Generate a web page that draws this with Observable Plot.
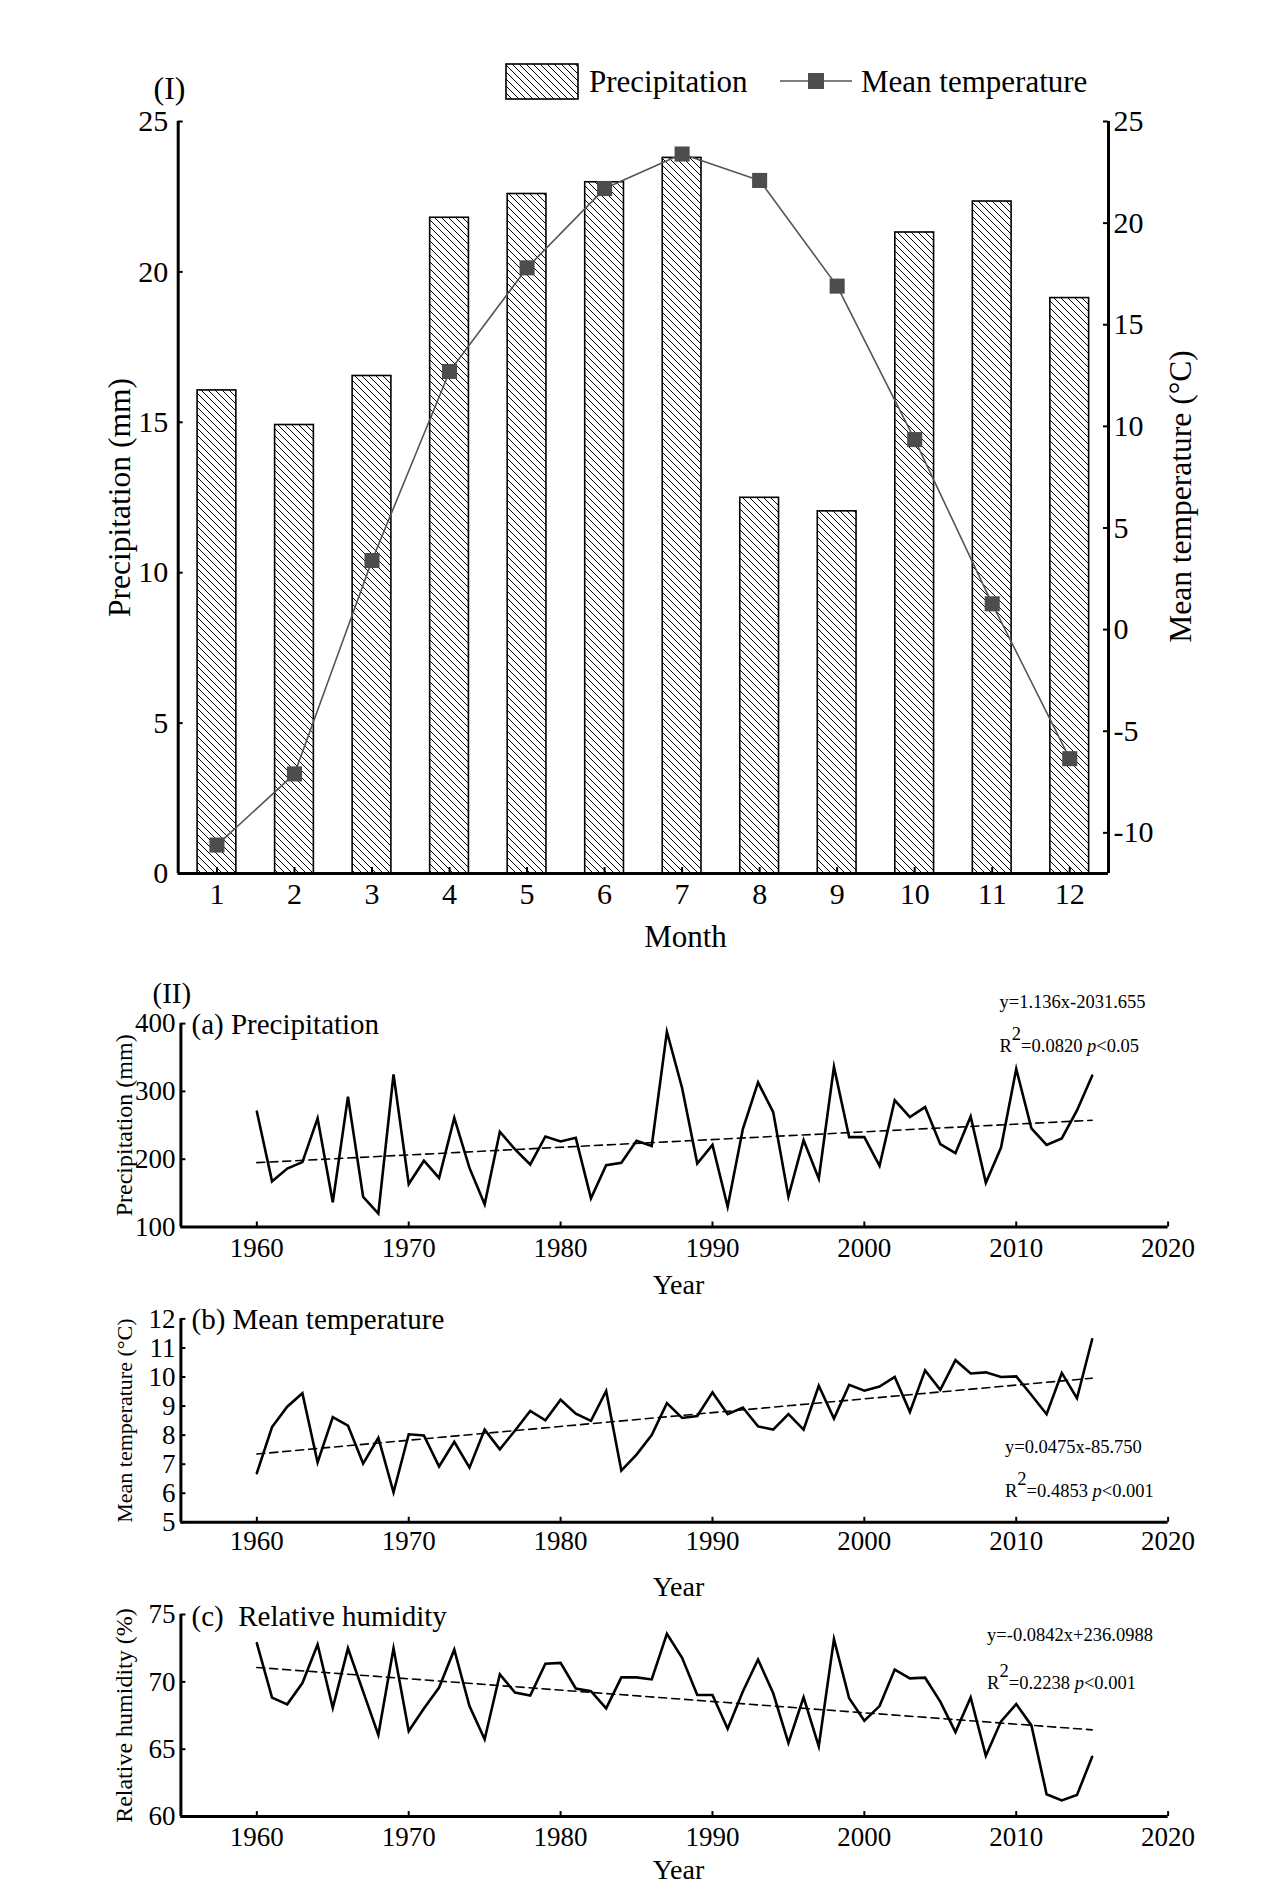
<!DOCTYPE html>
<html>
<head>
<meta charset="utf-8">
<script src="https://cdn.jsdelivr.net/npm/d3@7"></script>
<script src="https://cdn.jsdelivr.net/npm/@observablehq/plot@0.6"></script>
<style>
  html, body { margin: 0; padding: 0; background: #fff; overflow: hidden; }
  #wrap { position: relative; width: 1280px; height: 1891px; background: #fff; }
</style>
</head>
<body>
<svg width="0" height="0" style="position:absolute">
  <defs>
    <pattern id="hatch" patternUnits="userSpaceOnUse" width="7" height="7">
      <path d="M0,0L7,7M-1,6L1,8M6,-1L8,1" stroke="#000" stroke-width="1"/>
    </pattern>
  </defs>
</svg>
<div id="wrap"></div>
<script>
// ---------------- DATA ----------------
const months = [1, 2, 3, 4, 5, 6, 7, 8, 9, 10, 11, 12];
const precipMonthly = [16.06, 14.91, 16.54, 21.8, 22.59, 22.98, 23.79, 12.49, 12.04, 21.31, 22.34, 19.13];
const tempMonthly = [-10.6, -7.1, 3.4, 12.7, 17.8, 21.7, 23.4, 22.1, 16.9, 9.35, 1.27, -6.35];
const precipTicksMonthly = [0, 5, 10, 15, 20, 25];
const tempTicksMonthly = [-10, -5, 0, 5, 10, 15, 20, 25];

const years = [1960, 1961, 1962, 1963, 1964, 1965, 1966, 1967, 1968, 1969,
  1970, 1971, 1972, 1973, 1974, 1975, 1976, 1977, 1978, 1979,
  1980, 1981, 1982, 1983, 1984, 1985, 1986, 1987, 1988, 1989,
  1990, 1991, 1992, 1993, 1994, 1995, 1996, 1997, 1998, 1999,
  2000, 2001, 2002, 2003, 2004, 2005, 2006, 2007, 2008, 2009,
  2010, 2011, 2012, 2013, 2014, 2015];

const annualPrecip = [270.4, 167.3, 186.2, 195.7, 260.4, 136.4, 292.3, 144.3, 119.9, 325.2,
  163.3, 197.7, 172.3, 261.0, 187.2, 133.4, 240.5, 214.6, 192.2, 233.5,
  226.1, 231.5, 142.4, 191.2, 194.7, 227.1, 219.6, 388.0, 305.0, 193.7,
  221.1, 129.9, 244.5, 313.3, 269.4, 144.8, 228.0, 171.3, 336.2, 232.5,
  232.5, 190.2, 286.9, 262.0, 276.9, 222.1, 209.1, 262.9, 165.3, 217.1,
  333.2, 245.5, 221.1, 230.6, 271.9, 323.2];

const annualTemp = [6.69, 8.28, 8.98, 9.44, 7.06, 8.62, 8.33, 7.02, 7.91, 6.03,
  8.03, 7.99, 6.92, 7.77, 6.88, 8.19, 7.51, 8.16, 8.83, 8.51,
  9.22, 8.74, 8.49, 9.52, 6.78, 7.33, 8.0, 9.1, 8.59, 8.66,
  9.47, 8.72, 8.95, 8.30, 8.19, 8.72, 8.19, 9.70, 8.57, 9.73,
  9.53, 9.67, 10.0, 8.80, 10.23, 9.56, 10.58, 10.12, 10.16, 10.0,
  10.02, 9.38, 8.72, 10.14, 9.27, 11.30];

const annualRH = [72.87, 68.83, 68.33, 69.91, 72.77, 68.08, 72.49, 69.28, 66.07, 72.49,
  66.35, 68.03, 69.58, 72.39, 68.2, 65.74, 70.56, 69.2, 68.98, 71.34,
  71.41, 69.51, 69.31, 68.03, 70.33, 70.33, 70.18, 73.57, 71.79, 69.03,
  69.03, 66.52, 69.28, 71.66, 69.15, 65.47, 68.85, 65.22, 73.17, 68.78,
  67.12, 68.2, 70.91, 70.26, 70.31, 68.53, 66.27, 68.85, 64.51, 67.07,
  68.35, 66.77, 61.66, 61.2, 61.6, 64.44];

// trend line end points (1960 and 2015)
const trendYears = [1960, 2015];
const trendPrecip = [194.9, 257.4];
const trendTemp = [7.35, 9.96];
const trendRH = [71.07, 66.44];

const yearTicks = [1960, 1970, 1980, 1990, 2000, 2010, 2020];
const precipTicks = [100, 200, 300, 400];
const tempTicks = [5, 6, 7, 8, 9, 10, 11, 12];
const rhTicks = [60, 65, 70, 75];

// ---------------- HELPERS ----------------
const FONT = '"Liberation Serif", "Times New Roman", serif';
const W = 1280;
const wrap = document.getElementById("wrap");

function add(svg, top) {
  svg.style.position = "absolute";
  svg.style.left = "0px";
  svg.style.top = top + "px";
  wrap.appendChild(svg);
  return svg;
}

// place a text by its baseline point (X, Y in svg pixels)
function txt(s, X, Y, m, o = {}) {
  return Plot.text([s], {
    text: d => d,
    frameAnchor: "top-left",
    dx: X - m.mL,
    dy: Y - m.mT,
    lineAnchor: "bottom",
    textAnchor: "start",
    fill: "#000",
    fontSize: 30,
    ...o
  });
}

function fixSuperscripts(svg) {
  svg.querySelectorAll("text").forEach(t => {
    const s = t.textContent;
    const mm = s.match(/^R2=(\S+) p(.*)$/);
    if (mm) {
      const rest = mm[2].replace(/&/g, "&amp;").replace(/</g, "&lt;");
      t.innerHTML = `R<tspan dy="-0.62em">2</tspan><tspan dy="0.62em">=${mm[1]} </tspan><tspan font-style="italic">p</tspan><tspan>${rest}</tspan>`;
    }
  });
}

// ---------------- CHART I ----------------
const T = {mL: 177.7, mR: 172, mT: 121, mB: 97, H: 970};
const fw1 = W - T.mL - T.mR;
const fh1 = T.H - T.mT - T.mB;
const monthRows = months.map((m, i) => ({month: m, precip: precipMonthly[i], temp: tempMonthly[i]}));
const baseStyle = {background: "transparent", fontFamily: FONT, fontSize: "30px", color: "#000", overflow: "visible"};

const chartA = Plot.plot({
  width: W, height: T.H,
  marginLeft: T.mL, marginRight: T.mR, marginTop: T.mT, marginBottom: T.mB,
  style: baseStyle,
  x: {domain: [0.5, 12.5]},
  y: {domain: [0, 25]},
  marks: [
    Plot.rect(monthRows, {x1: d => d.month - 0.25, x2: d => d.month + 0.25, y1: 0, y2: "precip",
      fill: "url(#hatch)", stroke: "#000", strokeWidth: 1.6}),
    Plot.axisX({ticks: months, tickSize: 0, tickPadding: 9, tickFormat: d => String(d), label: null, fontSize: 30}),
    Plot.axisY({ticks: precipTicksMonthly, tickSize: 0, tickPadding: 10, tickFormat: d => String(d), label: null, fontSize: 30}),
    Plot.tickX(months, {x: d => d, insetTop: fh1 - 6, strokeWidth: 2}),
    Plot.tickY(precipTicksMonthly, {y: d => d, insetRight: fw1 - 5, strokeWidth: 2}),
    Plot.ruleX([0.5], {strokeWidth: 3}),
    Plot.ruleY([0], {strokeWidth: 3}),
    txt("(I)", 153, 98, T, {fontSize: 32}),
    txt("Precipitation (mm)", 129, 497, T, {rotate: -90, textAnchor: "middle", fontSize: 31.5}),
    txt("Month", 685, 946, T, {textAnchor: "middle", fontSize: 31})
  ]
});
add(chartA, 0);

const chartB = Plot.plot({
  width: W, height: T.H,
  marginLeft: T.mL, marginRight: T.mR, marginTop: T.mT, marginBottom: T.mB,
  style: baseStyle,
  x: {domain: [0.5, 12.5], axis: null},
  y: {domain: [-12, 25]},
  marks: [
    Plot.line(monthRows, {x: "month", y: "temp", stroke: "#555", strokeWidth: 1.6}),
    Plot.dot(monthRows, {x: "month", y: "temp", symbol: "square", r: 8.5, fill: "#4d4d4d"}),
    Plot.axisY({anchor: "right", ticks: tempTicksMonthly, tickSize: 0, tickPadding: 5, tickFormat: d => String(d), label: null, fontSize: 30}),
    Plot.tickY(tempTicksMonthly, {y: d => d, insetLeft: fw1 - 5, strokeWidth: 2}),
    Plot.ruleX([12.5], {strokeWidth: 3}),
    txt("Mean temperature (°C)", 1190, 496, T, {rotate: -90, textAnchor: "middle", fontSize: 31.5})
  ]
});
add(chartB, 0);

// legend
const legend = document.createElementNS("http://www.w3.org/2000/svg", "svg");
legend.setAttribute("width", "1280");
legend.setAttribute("height", "120");
legend.innerHTML = `
  <rect x="506" y="64" width="72" height="35" fill="url(#hatch)" stroke="#000" stroke-width="1.6"/>
  <text x="589" y="92" font-family='${FONT}' font-size="31" fill="#000">Precipitation</text>
  <line x1="780" y1="81" x2="852" y2="81" stroke="#555" stroke-width="1.6"/>
  <rect x="808" y="73" width="16" height="16" fill="#4d4d4d"/>
  <text x="861" y="92" font-family='${FONT}' font-size="31" fill="#000">Mean temperature</text>`;
add(legend, 0);

// ---------------- CHART II ----------------
function panel(cfg) {
  const m = {mL: 180.4, mR: 112.4, mT: cfg.mT, mB: cfg.mB};
  const fw = W - m.mL - m.mR;
  const fh = cfg.H - m.mT - m.mB;
  const rows = years.map((y, i) => ({year: y, value: cfg.values[i]}));
  const trows = trendYears.map((y, i) => ({year: y, value: cfg.trend[i]}));
  const t = (s, X, Y, o) => txt(s, X, Y - cfg.top, m, o);
  const frameMid = cfg.top + m.mT + fh / 2;
  const marks = [
    Plot.line(trows, {x: "year", y: "value", stroke: "#000", strokeWidth: 1.6, strokeDasharray: "8,5"}),
    Plot.line(rows, {x: "year", y: "value", stroke: "#000", strokeWidth: 2.6, strokeLinejoin: "miter", strokeMiterlimit: 6}),
    Plot.axisX({ticks: yearTicks, tickSize: 0, tickPadding: cfg.xPad, tickFormat: d => String(d), label: null, fontSize: 27}),
    Plot.axisY({ticks: cfg.yTicks, tickSize: 0, tickPadding: 5.5, tickFormat: d => String(d), label: null, fontSize: 27}),
    Plot.tickX(yearTicks, {x: d => d, insetTop: fh - 5, strokeWidth: 2}),
    Plot.tickY(cfg.yTicks, {y: d => d, insetRight: fw - 5, strokeWidth: 2}),
    Plot.ruleX([1955], {strokeWidth: 3}),
    Plot.ruleY([cfg.yDomain[0]], {strokeWidth: 3}),
    t(cfg.label, 191, cfg.labelY, {fontSize: 29}),
    t(cfg.yTitle, 131, frameMid, {rotate: -90, textAnchor: "middle", fontSize: cfg.titleSize}),
    t("Year", 678, cfg.yearY, {textAnchor: "middle", fontSize: 28}),
    t(cfg.eq1, cfg.eqX, cfg.eq1Y, {fontSize: 18.5}),
    t(cfg.eq2, cfg.eqX, cfg.eq2Y, {fontSize: 18.5}),
    ...(cfg.extra ? cfg.extra.map(e => t(e.s, e.x, e.y, e.o)) : [])
  ];
  const svg = Plot.plot({
    width: W, height: cfg.H,
    marginLeft: m.mL, marginRight: m.mR, marginTop: m.mT, marginBottom: m.mB,
    style: {background: "transparent", fontFamily: FONT, fontSize: "27px", color: "#000", overflow: "visible"},
    x: {domain: [1955, 2020]},
    y: {domain: cfg.yDomain},
    marks
  });
  fixSuperscripts(svg);
  add(svg, cfg.top);
}

panel({
  top: 970, H: 330, mT: 53.1, mB: 73.5,
  values: annualPrecip, trend: trendPrecip,
  yDomain: [100, 400], yTicks: precipTicks,
  label: "(a) Precipitation", labelY: 1033,
  yTitle: "Precipitation (mm)", titleSize: 24,
  yearY: 1293, xPad: 11,
  eq1: "y=1.136x-2031.655", eq2: "R2=0.0820 p<0.05", eqX: 999, eq1Y: 1007, eq2Y: 1051,
  extra: [{s: "(II)", x: 152, y: 1002, o: {fontSize: 29}}]
});

panel({
  top: 1300, H: 300, mT: 18.4, mB: 78.2,
  values: annualTemp, trend: trendTemp,
  yDomain: [5, 12], yTicks: tempTicks,
  label: "(b) Mean temperature", labelY: 1328.6,
  yTitle: "Mean temperature (°C)", titleSize: 22,
  yearY: 1595, xPad: 9,
  eq1: "y=0.0475x-85.750", eq2: "R2=0.4853 p<0.001", eqX: 1004.5, eq1Y: 1452, eq2Y: 1496
});

panel({
  top: 1600, H: 291, mT: 14, mB: 74.9,
  values: annualRH, trend: trendRH,
  yDomain: [60, 75], yTicks: rhTicks,
  label: "(c)\u00a0 Relative humidity", labelY: 1625,
  yTitle: "Relative humidity (%)", titleSize: 24,
  yearY: 1878, xPad: 10,
  eq1: "y=-0.0842x+236.0988", eq2: "R2=0.2238 p<0.001", eqX: 986.6, eq1Y: 1640, eq2Y: 1688
});
</script>
</body>
</html>
